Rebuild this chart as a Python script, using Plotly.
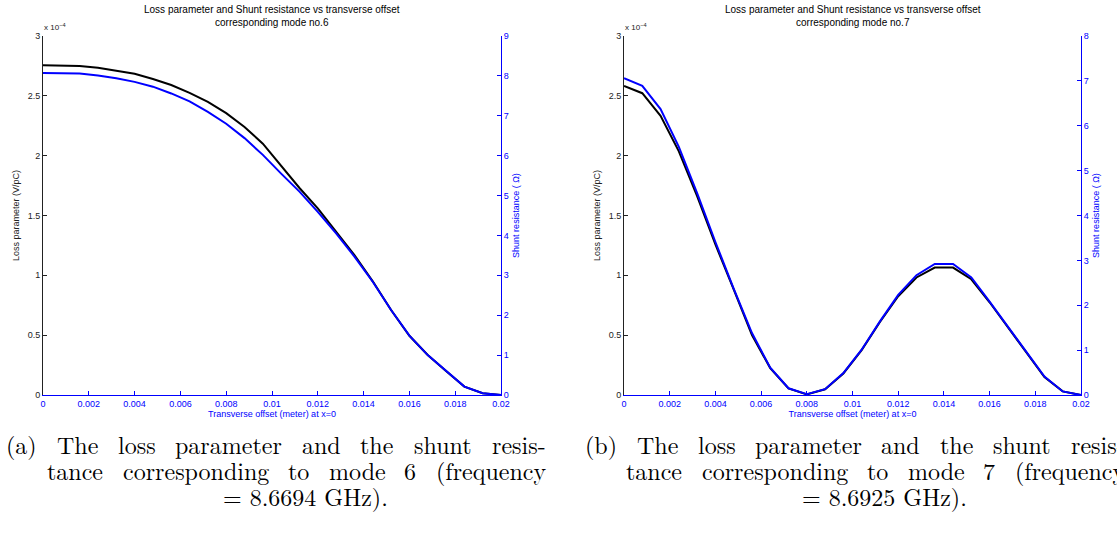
import plotly.graph_objects as go

# ---------------- data ----------------
offset_m = [0.0, 0.0008, 0.0016, 0.0024, 0.0032, 0.0040, 0.0048, 0.0056, 0.0064,
            0.0072, 0.0080, 0.0088, 0.0096, 0.0104, 0.0112, 0.0120, 0.0128, 0.0136,
            0.0144, 0.0152, 0.0160, 0.0168, 0.0176, 0.0184, 0.0192, 0.0200]

# mode 6: loss parameter (x 1e-4 V/pC) and shunt resistance (Ohm)
loss6_e4 = [2.756, 2.755, 2.750, 2.735, 2.712, 2.685, 2.640, 2.590, 2.525,
            2.450, 2.355, 2.240, 2.100, 1.915, 1.730, 1.560, 1.370, 1.170,
            0.950, 0.710, 0.495, 0.335, 0.200, 0.070, 0.015, 0.0]
shunt6 = [8.075, 8.07, 8.06, 8.01, 7.94, 7.85, 7.73, 7.56, 7.36,
          7.10, 6.80, 6.44, 6.02, 5.55, 5.10, 4.59, 4.05, 3.47,
          2.84, 2.13, 1.49, 1.00, 0.60, 0.21, 0.045, 0.0]

# mode 7
loss7_e4 = [2.583, 2.522, 2.333, 2.036, 1.661, 1.258, 0.883, 0.500, 0.225,
            0.055, 0.005, 0.048, 0.180, 0.375, 0.610, 0.825, 0.982, 1.065,
            1.065, 0.967, 0.775, 0.570, 0.360, 0.150, 0.030, 0.0]
shunt7 = [7.06, 6.89, 6.37, 5.53, 4.50, 3.41, 2.37, 1.38, 0.61,
          0.15, 0.02, 0.13, 0.49, 1.01, 1.64, 2.23, 2.67, 2.92,
          2.92, 2.62, 2.08, 1.53, 0.97, 0.41, 0.08, 0.0]

x_ticks = [0, 0.002, 0.004, 0.006, 0.008, 0.01, 0.012, 0.014, 0.016, 0.018, 0.02]
x_ticktext = ["0", "0.002", "0.004", "0.006", "0.008", "0.01", "0.012", "0.014", "0.016", "0.018", "0.02"]
loss_ticks = [0, 0.5, 1, 1.5, 2, 2.5, 3]
loss_ticktext = ["0", "0.5", "1", "1.5", "2", "2.5", "3"]
shunt6_ticks = [0, 1, 2, 3, 4, 5, 6, 7, 8, 9]
shunt7_ticks = [0, 1, 2, 3, 4, 5, 6, 7, 8]

titles = ["Loss parameter and Shunt resistance vs transverse offset<br>corresponding mode no.6",
          "Loss parameter and Shunt resistance vs transverse offset<br>corresponding mode no.7"]
captions = [
    ["(a) The loss parameter and the shunt resis-",
     "tance corresponding to mode 6 (frequency",
     "= 8.6694 GHz)."],
    ["(b) The loss parameter and the shunt resis-",
     "tance corresponding to mode 7 (frequency",
     "= 8.6925 GHz)."],
]

# ---------------- layout helpers ----------------
W, H = 1117, 541
BLUE = "#0000ff"
FONT = "Liberation Sans, Arial, Helvetica, sans-serif"
SERIF = "Latin Modern Roman, CMU Serif, Liberation Serif, DejaVu Serif, serif"
CAP_SIZE = 24

# approximate Computer Modern (cmr10) advance widths (1/1000 em) used to justify words
_TW = {'(': 389, ')': 389, 'a': 500, 'b': 556, 'c': 444, 'd': 556, 'e': 444, 'f': 306,
       'g': 500, 'h': 556, 'i': 278, 'j': 306, 'k': 528, 'l': 278, 'm': 833, 'n': 556,
       'o': 500, 'p': 556, 'q': 528, 'r': 392, 's': 394, 't': 389, 'u': 556, 'v': 528,
       'w': 722, 'x': 528, 'y': 528, 'z': 444, 'T': 722, 'G': 785, 'H': 750, '=': 778,
       '.': 278, '-': 333, ' ': 333}


def text_w(s, size):
    return sum(_TW.get(c, 500) for c in s) * size / 1000.0


px_x = [(43, 501), (624, 1081)]
py_top, py_bot = 36, 395
ydom = [(H - py_bot) / H, (H - py_top) / H]
cap_left = [5, 584]
cap_width = 540
cap_indent = 41
cap_y = [444, 470, 496]

fig = go.Figure()


def justified_line(line, x0, x1, ypix):
    words = line.split(" ")
    widths = [text_w(w, CAP_SIZE) for w in words]
    gap = (x1 - x0 - sum(widths)) / (len(words) - 1)
    pos = x0
    for w, wd in zip(words, widths):
        fig.add_annotation(x=pos / W, y=(H - ypix) / H, xref="paper", yref="paper",
                           xanchor="left", yanchor="middle", showarrow=False,
                           borderpad=0,
                           text=w, font=dict(family=SERIF, size=CAP_SIZE, color="black"))
        pos += wd + gap


panels = [(loss6_e4, shunt6, shunt6_ticks, 9), (loss7_e4, shunt7, shunt7_ticks, 8)]
for i, (loss, shunt, sticks, smax) in enumerate(panels):
    xa = "x" if i == 0 else "x2"
    ya_l = "y" if i == 0 else "y3"
    ya_r = "y2" if i == 0 else "y4"
    fig.add_trace(go.Scatter(x=offset_m, y=loss, mode="lines",
                             line=dict(color="black", width=2),
                             xaxis=xa, yaxis=ya_l, showlegend=False))
    fig.add_trace(go.Scatter(x=offset_m, y=shunt, mode="lines",
                             line=dict(color=BLUE, width=2),
                             xaxis=xa, yaxis=ya_r, showlegend=False))

    dom = [px_x[i][0] / W, px_x[i][1] / W]
    xname = "xaxis" if i == 0 else "xaxis2"
    yl = "yaxis" if i == 0 else "yaxis3"
    yr = "yaxis2" if i == 0 else "yaxis4"
    ylref = "y" if i == 0 else "y3"

    fig.update_layout(**{
        xname: dict(domain=dom, range=[0, 0.02], anchor=ylref,
                    showline=True, linecolor=BLUE, linewidth=1,
                    ticks="inside", ticklen=4, tickcolor=BLUE,
                    tickvals=x_ticks, ticktext=x_ticktext,
                    tickfont=dict(family=FONT, size=9, color=BLUE),
                    showgrid=False, zeroline=False,
                    title=dict(text="Transverse offset (meter) at x=0",
                               font=dict(family=FONT, size=9, color=BLUE),
                               standoff=2)),
        yl: dict(domain=ydom, range=[0, 3], anchor=xa,
                 showline=True, linecolor="#222222", linewidth=1,
                 ticks="inside", ticklen=4, tickcolor="#222222",
                 tickvals=loss_ticks, ticktext=loss_ticktext,
                 tickfont=dict(family=FONT, size=9, color="#222222"),
                 showgrid=False, zeroline=False,
                 title=dict(text="Loss parameter (V/pC)",
                            font=dict(family=FONT, size=9, color="#222222"),
                            standoff=6)),
        yr: dict(range=[0, smax], overlaying=ylref, side="right", anchor=xa,
                 showline=True, linecolor=BLUE, linewidth=1,
                 ticks="inside", ticklen=4, tickcolor=BLUE,
                 tickvals=sticks,
                 tickfont=dict(family=FONT, size=9, color=BLUE),
                 showgrid=False, zeroline=False,
                 title=dict(text="Shunt resistance ( Ω)",
                            font=dict(family=FONT, size=9, color=BLUE),
                            standoff=4)),
    })

    cx = (px_x[i][0] + px_x[i][1]) / 2 / W
    # title
    fig.add_annotation(x=cx, y=1 - 2 / H, xref="paper", yref="paper",
                       xanchor="center", yanchor="top", showarrow=False,
                       text=titles[i], align="center",
                       font=dict(family=FONT, size=10, color="black"))
    # exponent label
    fig.add_annotation(x=(px_x[i][0] - 1) / W, y=(H - py_top + 2) / H,
                       xref="paper", yref="paper", xanchor="left", yanchor="bottom",
                       showarrow=False, text="x 10<sup>−4</sup>",
                       font=dict(family=FONT, size=8, color="#222222"))
    # caption (justified like the LaTeX subcaption)
    left = cap_left[i]
    justified_line(captions[i][0], left, left + cap_width, cap_y[0])
    justified_line(captions[i][1], left + cap_indent, left + cap_width, cap_y[1])
    fig.add_annotation(x=(left + 300) / W, y=(H - cap_y[2]) / H, xref="paper", yref="paper",
                       xanchor="center", yanchor="middle", showarrow=False,
                       borderpad=0, text=captions[i][2],
                       font=dict(family=SERIF, size=CAP_SIZE, color="black"))

fig.update_layout(width=W, height=H, margin=dict(l=0, r=0, t=0, b=0),
                  paper_bgcolor="white", plot_bgcolor="white",
                  template="none", showlegend=False)

fig.write_html("out.html")
